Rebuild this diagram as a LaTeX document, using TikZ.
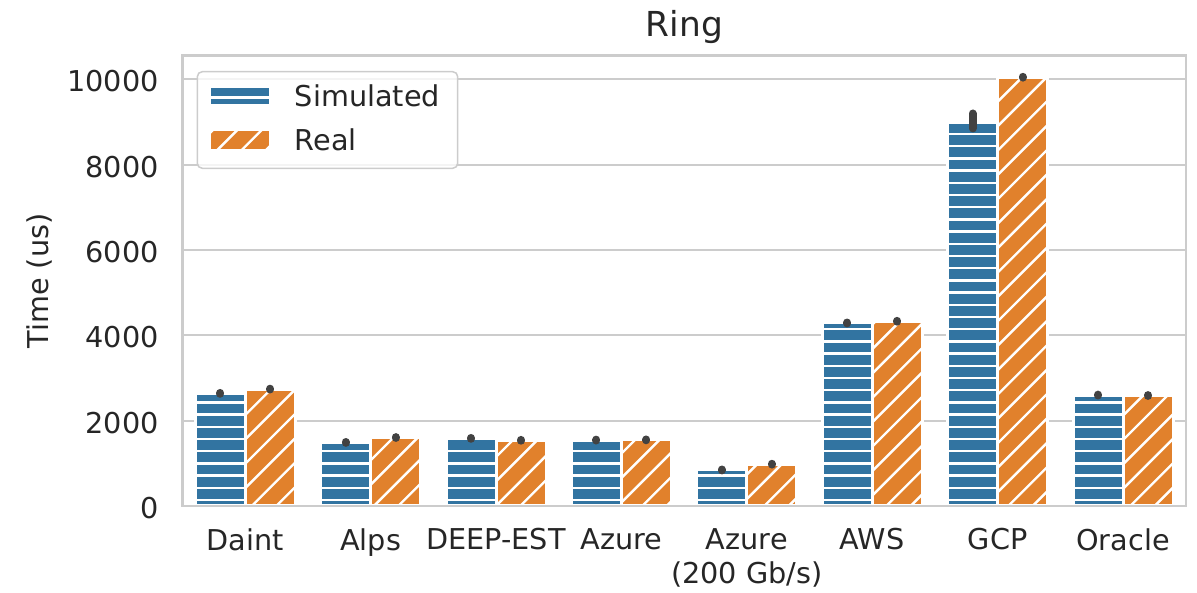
\documentclass[tikz,border=0pt]{standalone}
\usepackage{fontspec}
\setmainfont{DejaVu Sans}
\usepackage{tikz}
\usetikzlibrary{positioning}
\definecolor{simblue}{HTML}{3274A1}
\definecolor{realorange}{HTML}{E1812C}
\definecolor{gridgray}{HTML}{CCCCCC}
\definecolor{textgray}{HTML}{262626}
\definecolor{errgray}{HTML}{424242}

\begin{document}
\begin{tikzpicture}[
    x=0.5pt, y=0.5pt,
    every node/.style={text=textgray, font=\fontsize{14.35}{17.2}\selectfont},
    gridline/.style={draw=gridgray, line width=1pt},
    frame/.style={draw=gridgray, line width=1.25pt},
    hatchline/.style={draw=white, line width=1.2pt},
    simbar/.style={fill=simblue, path picture={
        \foreach \k in {0,...,40}
          \draw[hatchline] (0,{93+12.2*\k}) -- (1197,{93+12.2*\k});}},
    realbar/.style={fill=realorange, path picture={
        \foreach \k in {-46,...,16}
          \draw[hatchline] (0,{6+24.4*\k}) -- (1197,{1203+24.4*\k});}},
    baredge/.style={draw=white, line width=1.5pt},
    errbar/.style={draw=errgray, line width=4pt, line cap=round},
    legframe/.style={draw=gridgray, line width=0.75pt, fill=white, fill opacity=0.8, rounded corners=2.5pt},
    ticklabel/.style={anchor=east, inner sep=0pt},
    catlabel/.style={anchor=north, inner sep=0pt, align=center},
    legtext/.style={anchor=west, inner sep=0pt},
    titletext/.style={anchor=base, inner sep=0pt, font=\fontsize{17.2}{20.6}\selectfont}
]
\useasboundingbox (0,0) rectangle (1197,593);

% Grid and tick labels
\foreach \v in {0,2000,...,10000} {
  \draw[gridline] (182.5,{87+0.04267*\v}) -- (1186,{87+0.04267*\v});
  \node[ticklabel] (ytick\v) at (159,{85+0.04267*\v}) {\v};
}

% Bars (Simulated / Real) with error bars
\foreach \i/\sv/\slo/\shi/\rv in {0/2640/2630/2650/2740, 1/1490/1480/1500/1605,
    2/1585/1575/1595/1540, 3/1545/1535/1555/1550, 4/845/835/855/980,
    5/4290/4280/4300/4330, 6/9000/8850/9200/10050, 7/2600/2590/2610/2590} {
  \pgfmathsetmacro\xc{245.2+125.4*\i}
  \path[simbar, baredge] ({\xc-50},87) rectangle (\xc,{87+0.04267*\sv});
  \path[realbar, baredge] (\xc,87) rectangle ({\xc+50},{87+0.04267*\rv});
  \draw[errbar] ({\xc-25},{87+0.04267*\slo}) -- ({\xc-25},{87+0.04267*\shi});
  \draw[errbar] ({\xc+25},{87+0.04267*\rv-0.4}) -- ({\xc+25},{87+0.04267*\rv+0.4});
}

% Axes frame
\draw[frame] (182.5,87) rectangle (1186,537.3);

% Category labels
\foreach \i/\lab in {0/Daint, 1/Alps, 2/DEEP-EST, 3/Azure, 4/{Azure\\(200 Gb/s)},
    5/AWS, 6/GCP, 7/Oracle}
  \node[catlabel] (cat\i) at ({245.2+125.4*\i},65) {\lab};

% Axis label and title
\node[rotate=90, inner sep=0pt] (ylabel) at (39,312) {Time (us)};
\node[titletext] (title) at (684.3,556.3) {Ring};

% Legend
\path[legframe] (197.3,424.7) rectangle (457.7,521.3);
\path[simbar, baredge] (209.5,487) rectangle (270.5,506);
\path[realbar, baredge] (209.5,442.5) rectangle (270.5,463.5);
\coordinate (simpatch) at (270.5,496.7);
\coordinate (realpatch) at (270.5,453.5);
\node[legtext, right=12pt of simpatch] (simtext) {Simulated};
\node[legtext, right=12pt of realpatch] (realtext) {Real};

\end{tikzpicture}
\end{document}
